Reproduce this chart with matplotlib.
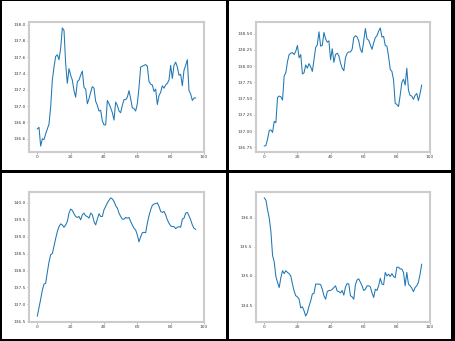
import numpy as np
import matplotlib
matplotlib.use("Agg")
import matplotlib.pyplot as plt
from matplotlib.ticker import MultipleLocator

# Four price series sampled at 96 steps
steps = np.arange(96)

series_a = [
    136.72, 136.74, 136.51, 136.60, 136.59, 136.66, 136.72, 136.78, 136.99, 137.32,
    137.48, 137.61, 137.63, 137.57, 137.71, 137.96, 137.93, 137.52, 137.28, 137.46,
    137.38, 137.32, 137.19, 137.11, 137.30, 137.32, 137.38, 137.43, 137.23, 137.21,
    137.03, 137.09, 137.17, 137.24, 137.22, 137.06, 137.01, 136.94, 136.95, 136.82,
    136.77, 136.77, 137.07, 137.03, 136.98, 136.92, 136.83, 137.05, 137.01, 136.94,
    136.92, 137.01, 137.08, 137.08, 137.11, 137.19, 137.09, 136.98, 136.97, 136.94,
    137.03, 137.23, 137.48, 137.49, 137.50, 137.51, 137.49, 137.30, 137.27, 137.26,
    137.18, 137.21, 137.02, 137.13, 137.17, 137.25, 137.22, 137.26, 137.28, 137.32,
    137.50, 137.34, 137.50, 137.54, 137.48, 137.38, 137.39, 137.25, 137.44, 137.50,
    137.57, 137.19, 137.15, 137.07, 137.10, 137.10,
]

series_b = [
    136.77, 136.78, 136.88, 137.01, 137.02, 136.98, 137.15, 137.13, 137.52, 137.54,
    137.53, 137.48, 137.85, 137.90, 138.07, 138.18, 138.20, 138.21, 138.18, 138.23,
    138.32, 138.13, 138.18, 137.88, 137.90, 138.02, 137.97, 138.04, 137.99, 137.92,
    138.10, 138.29, 138.33, 138.53, 138.31, 138.32, 138.52, 138.42, 138.37, 138.39,
    138.10, 138.27, 138.06, 138.18, 138.20, 138.16, 138.05, 137.97, 137.93, 138.13,
    138.20, 138.22, 138.22, 138.26, 138.44, 138.47, 138.45, 138.39, 138.26, 138.21,
    138.39, 138.58, 138.42, 138.40, 138.33, 138.26, 138.36, 138.44, 138.47, 138.54,
    138.59, 138.45, 138.46, 138.32, 138.31, 138.15, 137.95, 137.92, 137.79, 137.43,
    137.41, 137.38, 137.55, 137.75, 137.80, 137.71, 137.97, 137.63, 137.55, 137.54,
    137.49, 137.55, 137.58, 137.47, 137.58, 137.71,
]

series_c = [
    136.65, 136.90, 137.15, 137.42, 137.60, 137.62, 137.95, 138.25, 138.47, 138.50,
    138.72, 138.95, 139.15, 139.30, 139.38, 139.35, 139.28, 139.35, 139.45, 139.70,
    139.82, 139.78, 139.68, 139.60, 139.57, 139.60, 139.50, 139.65, 139.70, 139.62,
    139.60, 139.55, 139.70, 139.65, 139.45, 139.35, 139.52, 139.68, 139.60, 139.60,
    139.80, 139.90, 140.00, 140.08, 140.15, 140.12, 140.05, 139.92, 139.85, 139.70,
    139.60, 139.52, 139.52, 139.57, 139.55, 139.57, 139.45, 139.35, 139.25, 139.20,
    139.05, 138.85, 139.00, 139.12, 139.13, 139.12, 139.40, 139.62, 139.80, 139.93,
    139.97, 139.98, 140.00, 139.90, 139.75, 139.72, 139.75, 139.65, 139.50, 139.40,
    139.32, 139.30, 139.30, 139.24, 139.28, 139.30, 139.28, 139.52, 139.55, 139.70,
    139.72, 139.62, 139.50, 139.35, 139.25, 139.22,
]

series_d = [
    136.34, 136.30, 136.13, 135.99, 135.76, 135.35, 135.24, 134.99, 134.89, 134.80,
    134.97, 135.09, 135.04, 135.09, 135.06, 135.04, 135.00, 134.86, 134.74, 134.66,
    134.64, 134.60, 134.45, 134.47, 134.40, 134.31, 134.37, 134.48, 134.57, 134.69,
    134.70, 134.86, 134.86, 134.86, 134.85, 134.77, 134.66, 134.60, 134.73, 134.75,
    134.75, 134.77, 134.80, 134.83, 134.74, 134.73, 134.71, 134.75, 134.67, 134.81,
    134.87, 134.86, 134.66, 134.64, 134.60, 134.85, 134.93, 134.95, 134.89, 134.83,
    134.75, 134.77, 134.83, 134.83, 134.81, 134.71, 134.63, 134.77, 134.75, 134.83,
    134.96, 134.86, 134.85, 135.06, 135.00, 135.03, 134.99, 135.04, 134.99, 134.97,
    135.15, 135.15, 135.12, 135.12, 135.06, 134.83, 135.06, 134.86, 134.83, 134.79,
    134.73, 134.80, 134.83, 134.89, 135.03, 135.20,
]

# y tick spacing for each panel
y_steps = [0.2, 0.25, 0.5, 0.5]

W, H = 455, 341
fig = plt.figure(figsize=(W / 100, H / 100), dpi=100, facecolor="black")


def px_rect(x0, y0, x1, y1):
    """Convert a pixel box (top-left origin) to figure fractions."""
    return [x0 / W, 1 - y1 / H, (x1 - x0) / W, (y1 - y0) / H]


# White tiles separated by black frame lines
tiles = [(2, 1, 226, 170), (229, 1, 451, 170), (2, 173, 226, 339), (229, 173, 451, 339)]
for t in tiles:
    bg = fig.add_axes(px_rect(*t), facecolor="white")
    bg.set_axis_off()
    bg.add_patch(plt.Rectangle((0, 0), 1, 1, transform=bg.transAxes,
                               facecolor="white", edgecolor="none"))

boxes = [(29, 22, 204, 152), (256, 22, 430, 152), (29, 192, 204, 322), (256, 192, 430, 322)]
all_series = [series_a, series_b, series_c, series_d]

for box, values, ystep in zip(boxes, all_series, y_steps):
    ax = fig.add_axes(px_rect(*box), facecolor="white")
    ax.plot(steps, values, color="#1f77b4", lw=0.75)
    ax.set_xlim(-5, 100)
    ax.yaxis.set_major_locator(MultipleLocator(ystep))
    for sp in ax.spines.values():
        sp.set_color("#cccccc")
        sp.set_linewidth(1.5)
    ax.tick_params(length=1.5, width=0.6, color="#aaaaaa", labelsize=3.2,
                   labelcolor="#444444", pad=1)

fig.savefig("out.png", dpi=100, facecolor="black")
